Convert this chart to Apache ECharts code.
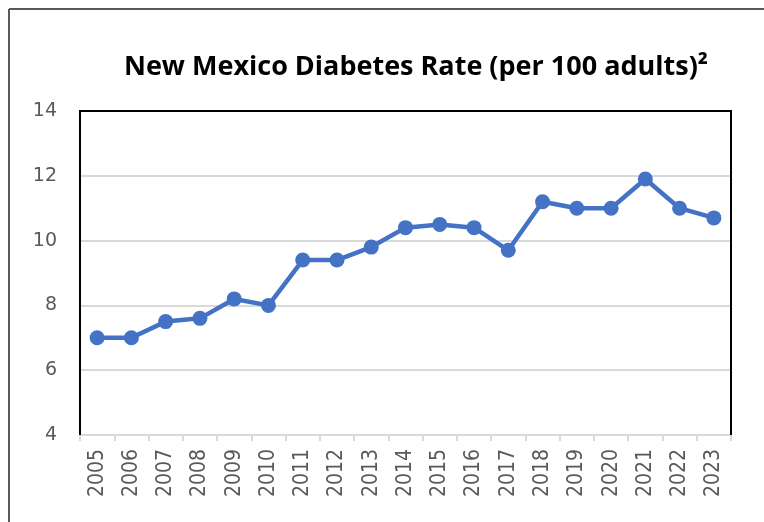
<!DOCTYPE html>
<html>
<head>
<meta charset="utf-8">
<script src="https://cdn.jsdelivr.net/npm/echarts@6/dist/echarts.min.js"></script>
<style>html,body{margin:0;padding:0;background:#fff}#c{width:764px;height:522px}</style>
</head>
<body>
<div id="c"></div>
<script>
const titleText = 'New Mexico Diabetes Rate (per 100 adults)²';
const years = ['2005','2006','2007','2008','2009','2010','2011','2012','2013','2014','2015','2016','2017','2018','2019','2020','2021','2022','2023'];
const rates = [7.0, 7.0, 7.5, 7.6, 8.2, 8.0, 9.4, 9.4, 9.8, 10.4, 10.5, 10.4, 9.7, 11.2, 11.0, 11.0, 11.9, 11.0, 10.7];
const yMin = 4, yMax = 14, yStep = 2;

const chart = echarts.init(document.getElementById('c'), null, {renderer: 'canvas'});
chart.setOption({
  animation: false,
  backgroundColor: '#fff',
  title: {
    text: titleText,
    left: 411,
    top: 49,
    textAlign: 'center',
    textStyle: {fontFamily: 'Open Sans', fontWeight: 'bold', fontSize: 27, color: '#000'}
  },
  graphic: [
    {type: 'line', shape: {x1: 9, y1: 9, x2: 770, y2: 9}, style: {stroke: '#595959', lineWidth: 2}, silent: true},
    {type: 'line', shape: {x1: 9, y1: 9, x2: 9, y2: 530}, style: {stroke: '#595959', lineWidth: 2}, silent: true},
    {type: 'polyline', z: 100, shape: {points: [[80, 435], [80, 111], [731, 111], [731, 435]]}, style: {stroke: '#000', lineWidth: 2, fill: null}, silent: true}
  ],
  grid: {
    left: 80, right: 33, top: 111, bottom: 87,
    show: false,
    containLabel: false
  },
  xAxis: {
    type: 'category',
    data: years,
    boundaryGap: true,
    axisLine: {show: true, lineStyle: {color: '#d9d9d9', width: 2}},
    axisTick: {show: true, length: 6, alignWithLabel: false, lineStyle: {color: '#d9d9d9', width: 2}},
    axisLabel: {rotate: 90, margin: 14, fontFamily: 'DejaVu Sans Condensed, DejaVu Sans', fontSize: 21, color: '#595959', interval: 0},
    splitLine: {show: false}
  },
  yAxis: {
    type: 'value',
    min: yMin, max: yMax, interval: yStep,
    axisLine: {show: false},
    axisTick: {show: false},
    axisLabel: {margin: 23, fontFamily: 'DejaVu Sans', fontSize: 19, color: '#595959'},
    splitLine: {show: true, lineStyle: {color: '#d9d9d9', width: 2}}
  },
  series: [{
    type: 'line',
    data: rates,
    symbol: 'circle',
    symbolSize: 15,
    lineStyle: {color: '#4472C4', width: 4.5},
    itemStyle: {color: '#4472C4'},
    z: 5
  }]
});
</script>
</body>
</html>
